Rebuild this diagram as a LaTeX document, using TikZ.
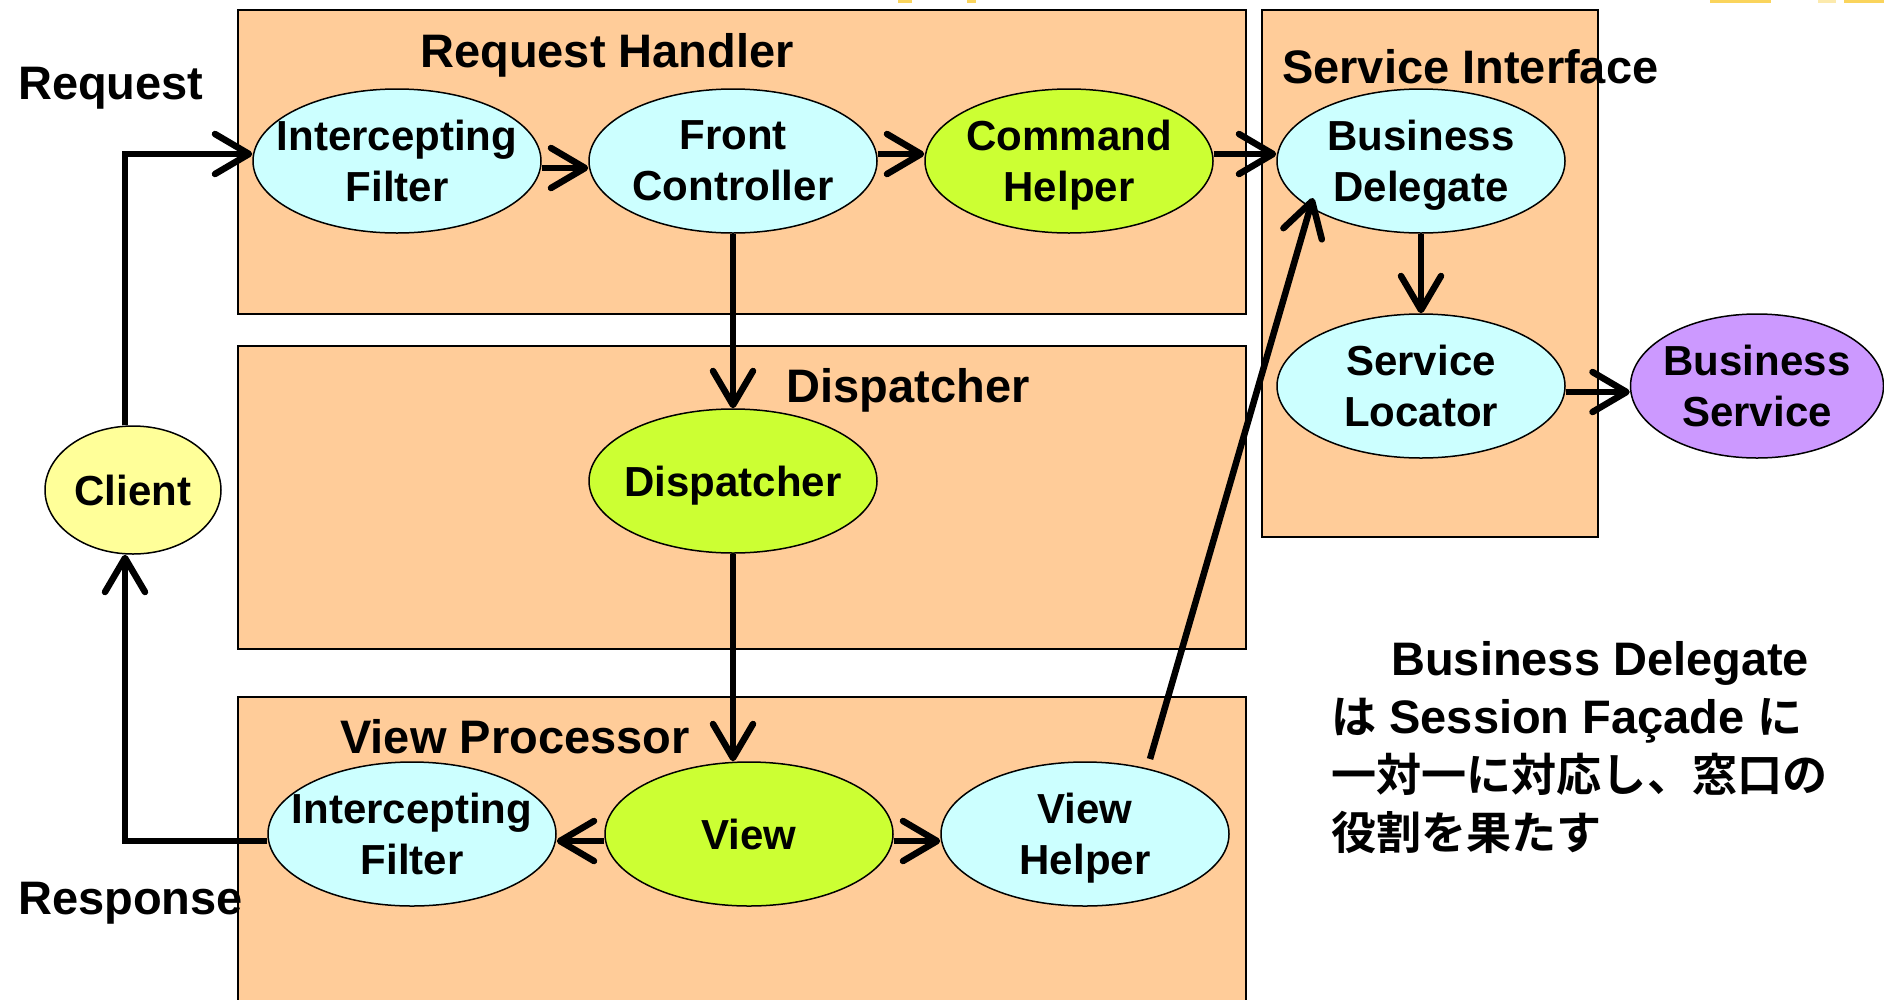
\documentclass[tikz,border=0pt]{standalone}
\usepackage{fontspec}
\setmainfont{Liberation Sans}
\newfontfamily\jpfont{Noto Sans CJK JP}[Scale=0.96,BoldFont={Noto Sans CJK JP Bold}]
\usetikzlibrary{shapes.geometric,arrows.meta}

\definecolor{panel}{HTML}{FFCC99}
\definecolor{cyanfill}{HTML}{CCFFFF}
\definecolor{limefill}{HTML}{CCFF33}
\definecolor{violetfill}{HTML}{CC99FF}
\definecolor{clientfill}{HTML}{FFFF99}
\definecolor{sliver}{HTML}{FAD45C}

\tikzset{
  panelbox/.style={draw=black, line width=1.5pt, fill=panel},
  oval/.style={ellipse, draw=black, line width=1.5pt, minimum width=288pt,
               minimum height=144pt, inner sep=0pt},
  ovaltext/.style={align=center, inner sep=0pt, text depth=0pt,
                   font=\fontsize{42}{51}\selectfont\bfseries},
  title/.style={inner sep=0pt, font=\fontsize{47}{58}\selectfont\bfseries},
  flow/.style={line width=6.5pt, -{Straight Barb[length=34pt,width=40pt,round]}},
}

\begin{document}
\begin{tikzpicture}[x=1pt,y=-1pt]
\clip (0,0) rectangle (1884,999);

% slivers of colour along the top edge
\fill[sliver] (898,0) rectangle (912,2.5);
\fill[sliver] (967,0) rectangle (976,2.5);
\fill[sliver] (1710,0) rectangle (1771,2.5);
\fill[sliver!50] (1818,0) rectangle (1836,2.5);
\fill[sliver] (1844,0) rectangle (1884,2.5);

% tier panels
\path[panelbox] (238,10) rectangle (1246,314);
\path[panelbox] (1262,10) rectangle (1598,537);
\path[panelbox] (238,346) rectangle (1246,649);
\path[panelbox] (238,697) rectangle (1246,1010);

% components
\node[oval, fill=cyanfill, label={[ovaltext]center:Intercepting\\Filter}] (if1) at (397,161) {};
\node[oval, fill=cyanfill, label={[ovaltext]center:Front\\Controller}] (fc) at (733,161) {};
\node[oval, fill=limefill, label={[ovaltext]center:Command\\Helper}] (ch) at (1069,161) {};
\node[oval, fill=cyanfill, label={[ovaltext]center:Business\\Delegate}] (bd) at (1421,161) {};
\node[oval, fill=cyanfill, label={[ovaltext]center:Service\\Locator}] (sl) at (1421,386) {};
\node[oval, fill=violetfill, minimum width=253pt, label={[ovaltext]center:Business\\Service}] (bs) at (1757,386) {};
\node[oval, fill=limefill, label={[ovaltext]center:Dispatcher}] (disp) at (733,481) {};
\node[oval, fill=clientfill, minimum width=176pt, minimum height=128pt, label={[ovaltext]center:Client}] (client) at (133,490) {};
\node[oval, fill=cyanfill, label={[ovaltext]center:Intercepting\\Filter}] (vif) at (412,834) {};
\node[oval, fill=limefill, label={[ovaltext]center:View}] (view) at (749,834) {};
\node[oval, fill=cyanfill, label={[ovaltext]center:View\\Helper}] (vh) at (1085,834) {};

% headings and side labels
\node[title, anchor=base west] (lreq) at (18,99) {Request};
\node[title, anchor=base] (trh) at (607,67) {Request Handler};
\node[title, anchor=base west] (tsi) at (1282,83) {Service Interface};
\node[title, anchor=base] (tdisp) at (908,402) {Dispatcher};
\node[title, anchor=base] (tvp) at (515,753) {View Processor};
\node[title, anchor=base west] (lresp) at (18,914) {Response};

% note
\node[title, anchor=base west] (n1) at (1391,675) {Business Delegate};
\node[title, anchor=base west] (n2) at (1331,733) {{\jpfont は} Session Façade {\jpfont に}};
\node[title, anchor=base west] (n3) at (1331,791) {\jpfont 一対一に対応し、窓口の};
\node[title, anchor=base west] (n4) at (1331,849) {\jpfont 役割を果たす};

% flows
\draw[flow] ([xshift=-8pt]client.north) |- ([yshift=7pt]if1.west);
\draw[flow] ([yshift=-7pt]if1.east) -- ([yshift=-7pt]fc.west);
\draw[flow] ([yshift=7pt]fc.east) -- ([yshift=7pt]ch.west);
\draw[flow] ([yshift=7pt]ch.east) -- ([yshift=7pt]bd.west);
\draw[flow] (fc.south) -- (disp.north);
\draw[flow] (disp.south) -- (disp.south |- view.north);
\draw[flow] ([yshift=-7pt]view.west) -- ([yshift=-7pt]vif.east);
\draw[flow] ([yshift=-7pt]view.east) -- ([yshift=-7pt]vh.west);
\draw[flow] ([yshift=-7pt]vif.west) -| ([xshift=-8pt]client.south);
\draw[flow] ([shift={(65,-75)}]vh.center) -- ([shift={(-108,37)}]bd.center);
\draw[flow] (bd.south) -- (sl.north);
\draw[flow] ([yshift=-6pt]sl.east) -- ([yshift=-6pt]bs.west);
\end{tikzpicture}
\end{document}
